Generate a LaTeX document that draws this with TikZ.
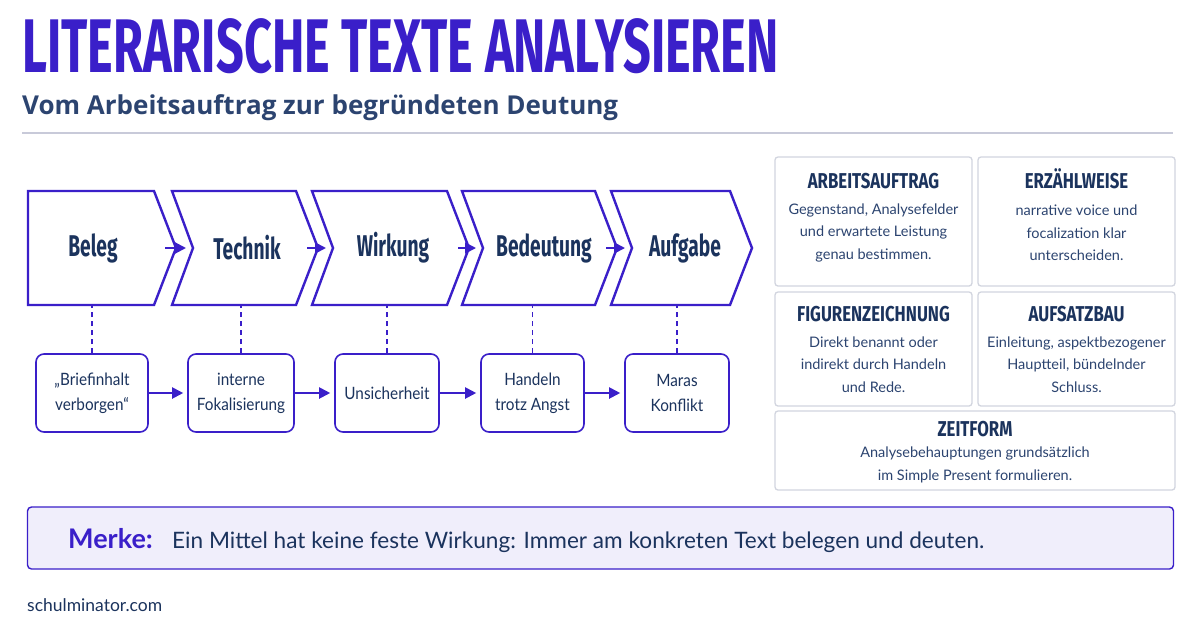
\documentclass[tikz,border=0pt]{standalone}
\usepackage{fontspec}
\setmainfont{Lato}
\newfontfamily\titlefont[FakeStretch=0.64]{Fira Sans}
\newfontfamily\headfont[FakeStretch=0.64]{Fira Sans}
\newfontfamily\cardfont[FakeStretch=0.78]{Fira Sans}
\newfontfamily\subfont{Open Sans}
\newfontfamily\boxfont[FakeStretch=0.9]{Lato}
\usetikzlibrary{positioning, arrows.meta, calc}
\usepackage{xcolor}
\definecolor{lvviolet}{HTML}{3A1FC9}
\definecolor{lvnavy}{HTML}{1B335D}
\definecolor{lvslate}{HTML}{2C4470}
\definecolor{lvgray}{HTML}{D2D5DF}
\definecolor{lvrule}{HTML}{C8CAD9}
\definecolor{lvmerke}{HTML}{F0EEFB}

\begin{document}
\begin{tikzpicture}[x=1pt, y=-1pt,
    chev/.style={draw=lvviolet, line width=2.4pt, line join=miter, fill=white},
    chevlabel/.style={font=\headfont\bfseries\fontsize{30}{32}\selectfont, text=lvnavy},
    stepbox/.style={draw=lvviolet, line width=1.6pt, rounded corners=8pt, fill=white, align=center,
      text=lvnavy, font=\boxfont\fontsize{17}{25}\selectfont, minimum height=78pt, inner sep=0pt},
    flow/.style={draw=lvviolet, line width=2pt, -{Triangle[length=11pt, width=11pt]}},
    link/.style={draw=lvviolet, line width=1.3pt, dash pattern=on 5pt off 4pt},
    card/.style={draw=lvgray, line width=1.3pt, rounded corners=3pt, fill=white, inner sep=0pt},
    cardhead/.style={font=\cardfont\bfseries\fontsize{21.5}{24}\selectfont, text=lvnavy, anchor=base, inner sep=0pt},
    cardtext/.style={font=\fontsize{14.5}{22.5}\selectfont, text=lvslate, align=center, inner sep=0pt}
  ]
  \useasboundingbox[fill=white] (0,0) rectangle (1200,630);

  % title
  \node[anchor=base west, inner sep=0pt, text=lvviolet,
    font=\titlefont\bfseries\fontsize{76}{76}\selectfont] (title) at (22,72) {LITERARISCHE TEXTE ANALYSIEREN};
  \node[anchor=base west, inner sep=0pt, text=lvslate,
    font=\subfont\bfseries\fontsize{26}{30}\selectfont] (subtitle) at (22,114) {Vom Arbeitsauftrag zur begründeten Deutung};
  \draw[lvrule, line width=1.5pt] (22,133) -- (1173,133);

  % chevrons
  \draw[chev] (28,191) -- (154,191) -- (176,248) -- (154,305) -- (28,305) -- cycle;
  \draw[chev] (172,191) -- (296,191) -- (318,248) -- (296,305) -- (172,305) -- (193,248) -- cycle;
  \draw[chev] (312,191) -- (447,191) -- (469,248) -- (447,305) -- (312,305) -- (333,248) -- cycle;
  \draw[chev] (462,191) -- (595,191) -- (617,248) -- (595,305) -- (462,305) -- (483,248) -- cycle;
  \draw[chev] (611,191) -- (730,191) -- (752,248) -- (730,305) -- (611,305) -- (632,248) -- cycle;
  \coordinate (belegtip) at (176,248);
  \coordinate (techniktip) at (318,248);
  \coordinate (wirkungtip) at (469,248);
  \coordinate (bedeutungtip) at (617,248);
  \coordinate (techniknotch) at (193,248);
  \coordinate (wirkungnotch) at (333,248);
  \coordinate (bedeutungnotch) at (483,248);
  \coordinate (aufgabenotch) at (632,248);
  \coordinate (chevbottom) at (0,305);

  \node[chevlabel] (beleg) at (93,248) {Beleg};
  \node[chevlabel] (technik) at (247,248) {Technik};
  \node[chevlabel] (wirkung) at (393,248) {Wirkung};
  \node[chevlabel] (bedeutung) at (544,248) {Bedeutung};
  \node[chevlabel] (aufgabe) at (685,248) {Aufgabe};

  \draw[flow] ($(belegtip)+(-11,0)$) -- ($(techniknotch)+(-7,0)$);
  \draw[flow] ($(techniktip)+(-11,0)$) -- ($(wirkungnotch)+(-7,0)$);
  \draw[flow] ($(wirkungtip)+(-11,0)$) -- ($(bedeutungnotch)+(-7,0)$);
  \draw[flow] ($(bedeutungtip)+(-11,0)$) -- ($(aufgabenotch)+(-7,0)$);

  % example chain
  \node[stepbox, minimum width=112pt] (brief) at (92,393) {„Briefinhalt\\verborgen“};
  \node[stepbox, minimum width=106pt] (fokal) at (241,393) {interne\\Fokalisierung};
  \node[stepbox, minimum width=104pt] (unsicher) at (387,393) {Unsicherheit};
  \node[stepbox, minimum width=103pt] (angst) at (532.5,393) {Handeln\\trotz Angst};
  \node[stepbox, minimum width=104pt] (konflikt) at (677,393) {Maras\\Konflikt};

  \draw[link] (brief.north) -- (brief.north |- chevbottom);
  \draw[link] (fokal.north) -- (fokal.north |- chevbottom);
  \draw[link] (unsicher.north) -- (unsicher.north |- chevbottom);
  \draw[link] (angst.north) -- (angst.north |- chevbottom);
  \draw[link] (konflikt.north) -- (konflikt.north |- chevbottom);

  \draw[flow, shorten >=4pt] (brief) -- (fokal);
  \draw[flow, shorten >=4pt] (fokal) -- (unsicher);
  \draw[flow, shorten >=4pt] (unsicher) -- (angst);
  \draw[flow, shorten >=4pt] (angst) -- (konflikt);

  % cards
  \node[card, minimum width=197pt, minimum height=129pt] (auftrag) at (873.5,221.5) {};
  \node[cardhead] (auftraghead) at ($(auftrag.north)+(0,32.5)$) {ARBEITSAUFTRAG};
  \node[cardtext] (auftragtext) at ($(auftrag.north)+(0,76.5)$) {Gegenstand, Analysefelder\\und erwartete Leistung\\genau bestimmen.};

  \node[card, minimum width=197pt, minimum height=129pt] (erzaehl) at (1076.5,221.5) {};
  \node[cardhead] (erzaehlhead) at ($(erzaehl.north)+(0,32.5)$) {ERZÄHLWEISE};
  \node[cardtext] (erzaehltext) at ($(erzaehl.north)+(0,76.5)$) {narrative voice und\\focalization klar\\unterscheiden.};

  \node[card, minimum width=197pt, minimum height=114pt] (figur) at (873.5,349) {};
  \node[cardhead] (figurhead) at ($(figur.north)+(0,30.5)$) {FIGURENZEICHNUNG};
  \node[cardtext] (figurtext) at ($(figur.north)+(0,73)$) {Direkt benannt oder\\indirekt durch Handeln\\und Rede.};

  \node[card, minimum width=197pt, minimum height=114pt] (aufsatz) at (1076.5,349) {};
  \node[cardhead] (aufsatzhead) at ($(aufsatz.north)+(0,30.5)$) {AUFSATZBAU};
  \node[cardtext] (aufsatztext) at ($(aufsatz.north)+(0,73)$) {Einleitung, aspektbezogener\\Hauptteil, bündelnder\\Schluss.};

  \node[card, minimum width=400pt, minimum height=79pt] (zeit) at (975,450.5) {};
  \node[cardhead] (zeithead) at ($(zeit.north)+(0,26.5)$) {ZEITFORM};
  \node[cardtext] (zeittext) at ($(zeit.north)+(0,54.5)$) {Analysebehauptungen grundsätzlich\\im Simple Present formulieren.};

  % merke
  \node[draw=lvviolet, fill=lvmerke, line width=1.4pt, rounded corners=4pt,
    minimum width=1146pt, minimum height=62pt, inner sep=0pt] (merke) at (600.5,538) {};
  \node[anchor=base west, inner sep=0pt, text=lvviolet,
    font=\bfseries\fontsize{27}{30}\selectfont] (merkelabel) at (68,548) {Merke:};
  \node[anchor=base west, inner sep=0pt, text=lvnavy,
    font=\fontsize{22.6}{26}\selectfont] (merketext) at (172,548) {Ein Mittel hat keine feste Wirkung: Immer am konkreten Text belegen und deuten.};

  \node[anchor=base west, inner sep=0pt, text=lvnavy,
    font=\fontsize{17.5}{20}\selectfont] (footer) at (27,611) {schulminator.com};
\end{tikzpicture}
\end{document}
